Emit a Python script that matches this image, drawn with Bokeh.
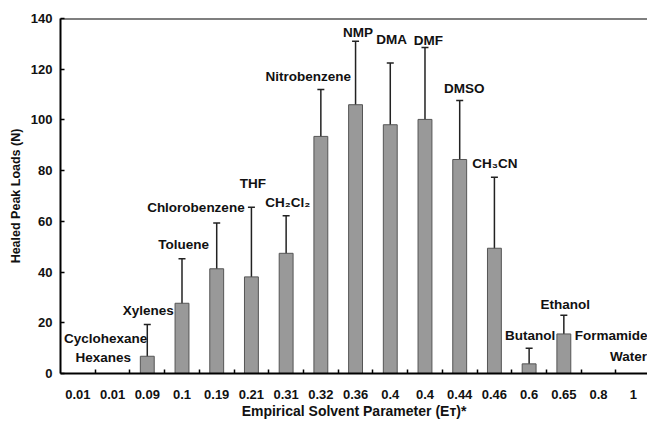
from bokeh.plotting import figure
from bokeh.models import ColumnDataSource, FixedTicker, Whisker, TeeHead, Span, Range1d
from bokeh.core.properties import value
from bokeh.embed import file_html
from bokeh.resources import INLINE

# --- data ---
et_labels = ["0.01", "0.01", "0.09", "0.1", "0.19", "0.21", "0.31", "0.32", "0.36",
             "0.4", "0.4", "0.44", "0.46", "0.6", "0.65", "0.8", "1"]
solvents = ["Hexanes", "Cyclohexane", "Xylenes", "Toluene", "Chlorobenzene", "THF",
            "CH\u2082Cl\u2082", "Nitrobenzene", "NMP", "DMA", "DMF", "DMSO", "CH\u2083CN",
            "Butanol", "Ethanol", "Formamide", "Water"]
peak_load = [0, 0, 6.8, 27.7, 41.3, 38.1, 47.4, 93.5, 106.0, 98.1, 100.2, 84.4, 49.4,
             3.8, 15.6, 0, 0]
err_upper = [None, None, 19.3, 45.3, 59.4, 65.6, 62.2, 112.0, 131.0, 122.5, 128.6, 107.7,
             77.4, 10.0, 23.0, None, None]
err_lower = [None, None, 0.0, 10.4, 22.9, 11.2, 32.8, 74.8, 81.1, 73.9, 71.8, 61.4,
             21.7, 0.0, 8.4, None, None]
y_ticks = [0, 20, 40, 60, 80, 100, 120, 140]

# label anchor positions (category units / N)
label_x = [0.73, 0.80, 2.03, 3.05, 3.40, 5.04, 6.05, 6.64, 8.07, 9.04, 10.10, 11.13,
           12.01, 13.03, 14.04, 15.36, 15.86]
label_y = [6.4, 13.9, 24.8, 50.9, 65.6, 74.9, 67.5, 117.1, 134.5, 131.7, 131.3, 112.5,
           82.8, 15.0, 27.1, 15.0, 6.8]

idx = list(range(len(et_labels)))
FONT = "Liberation Sans"

p = figure(width=647, height=422, output_backend="svg", toolbar_location=None,
           x_range=Range1d(-0.5, 16.41), y_range=Range1d(0, 140),
           min_border_left=60, min_border_right=0, min_border_top=18, min_border_bottom=49)
p.outline_line_color = None
p.xgrid.grid_line_color = None
p.ygrid.grid_line_color = None

bar_src = ColumnDataSource(dict(x=idx, top=peak_load))
p.vbar(x="x", top="top", width=0.4, bottom=0, source=bar_src,
       fill_color="#999999", line_color="#555555", line_width=1)

ex = [i for i in idx if err_upper[i] is not None]
err_src = ColumnDataSource(dict(x=ex, up=[err_upper[i] for i in ex], lo=[err_lower[i] for i in ex]))
w = Whisker(source=err_src, base="x", upper="up", lower="lo", line_color="#222222", line_width=1.5,
            upper_head=TeeHead(size=7, line_color="#222222", line_width=1.5),
            lower_head=TeeHead(size=7, line_color="#222222", line_width=1.5))
p.add_layout(w)

lab_src = ColumnDataSource(dict(x=label_x, y=label_y, t=solvents))
p.text(x="x", y="y", text="t", source=lab_src, text_align="center", text_baseline="middle",
       text_font=value(FONT), text_font_style="bold", text_font_size="13.5px", text_color="#111111")

p.add_layout(Span(location=140, dimension="width", line_color="black", line_width=2))

xa = p.xaxis[0]
xa.ticker = FixedTicker(ticks=idx, minor_ticks=[i + 0.5 for i in idx])
xa.major_label_overrides = {i: et_labels[i] for i in idx}
xa.major_tick_in = 0
xa.major_tick_out = 0
xa.minor_tick_in = 4
xa.minor_tick_out = 0
xa.minor_tick_line_color = "black"
xa.minor_tick_line_width = 1.5
xa.axis_line_width = 2
xa.axis_line_color = "black"
xa.major_label_standoff = 16
xa.axis_label = "Empirical Solvent Parameter (E\u1d1b)*"
xa.axis_label_standoff = 1

ya = p.yaxis[0]
ya.ticker = FixedTicker(ticks=y_ticks, minor_ticks=[])
ya.major_tick_in = 4
ya.major_tick_out = 0
ya.major_tick_line_width = 1.5
ya.axis_line_width = 2
ya.axis_line_color = "black"
ya.major_label_standoff = 8
ya.axis_label = "Healed Peak Loads (N)"
ya.axis_label_standoff = 5

for ax in (xa, ya):
    ax.major_label_text_font = FONT
    ax.major_label_text_font_style = "bold"
    ax.major_label_text_font_size = "13px"
    ax.major_label_text_color = "#111111"
    ax.axis_label_text_font = FONT
    ax.axis_label_text_font_style = "bold"
    ax.axis_label_text_color = "#111111"
xa.axis_label_text_font_size = "14px"
ya.axis_label_text_font_size = "12.5px"

open("out.html", "w").write(file_html(p, INLINE))
